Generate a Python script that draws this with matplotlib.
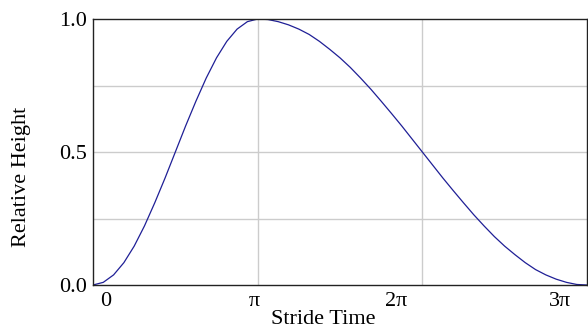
import numpy as np
import matplotlib.pyplot as plt
from matplotlib import transforms

plt.rcParams['font.family'] = ['Liberation Serif', 'DejaVu Serif']

# stride time in units of pi, sampled every pi/16
heights = [0.0, 0.010, 0.038, 0.084, 0.146, 0.222, 0.309, 0.402, 0.5,
           0.598, 0.691, 0.778, 0.854, 0.916, 0.962, 0.990, 1.0,
           0.998, 0.990, 0.978, 0.962, 0.942, 0.916, 0.886, 0.854,
           0.818, 0.778, 0.736, 0.691, 0.645, 0.598, 0.549, 0.5,
           0.451, 0.402, 0.355, 0.309, 0.264, 0.222, 0.182, 0.146,
           0.114, 0.084, 0.058, 0.038, 0.022, 0.010, 0.002, 0.0]
stride = np.arange(len(heights)) / 16.0

xtick_pos = [0, 1, 2, 3]
xtick_labels = ['0', 'π', '2π', '3π']
ytick_pos = [0.0, 0.5, 1.0]
ytick_labels = ['0.0', '0.5', '1.0']

fig = plt.figure(figsize=(5.88, 3.29), dpi=100)
ax = fig.add_axes([93/588, 1-285/329, 494/588, 266/329])

for y in [0.25, 0.5, 0.75]:
    ax.axhline(y, color='#cccccc', lw=1, zorder=0)
for x in [1, 2]:
    ax.axvline(x, color='#cccccc', lw=1, zorder=0)

ax.plot(stride, heights, color='#1f1f96', lw=0.9)

ax.set_xlim(0, 3)
ax.set_ylim(0, 1)
ax.set_xticks(xtick_pos)
ax.set_yticks(ytick_pos)
ax.set_yticklabels(ytick_labels)
ax.tick_params(length=0, labelbottom=False, labelsize=16, pad=4)
for sp in ax.spines.values():
    sp.set_color('#222222')
    sp.set_linewidth(1)

# tick labels are shifted oddly in the original
offsets = [13, -3, -26, -27]
base = transforms.blended_transform_factory(ax.transData, ax.transAxes)
for x, lab, dx in zip(xtick_pos, xtick_labels, offsets):
    tr = transforms.offset_copy(base, fig=fig, x=dx, y=-17, units='dots')
    ax.text(x, 0, lab, transform=tr, ha='center', va='center', fontsize=16)

fig.text(323/588, 1-320/329, 'Stride Time', ha='center', va='center', fontsize=16)
fig.text(22/588, 1-177/329, 'Relative Height', rotation=90,
         ha='center', va='center', fontsize=16)

fig.savefig('out.png', dpi=100)
